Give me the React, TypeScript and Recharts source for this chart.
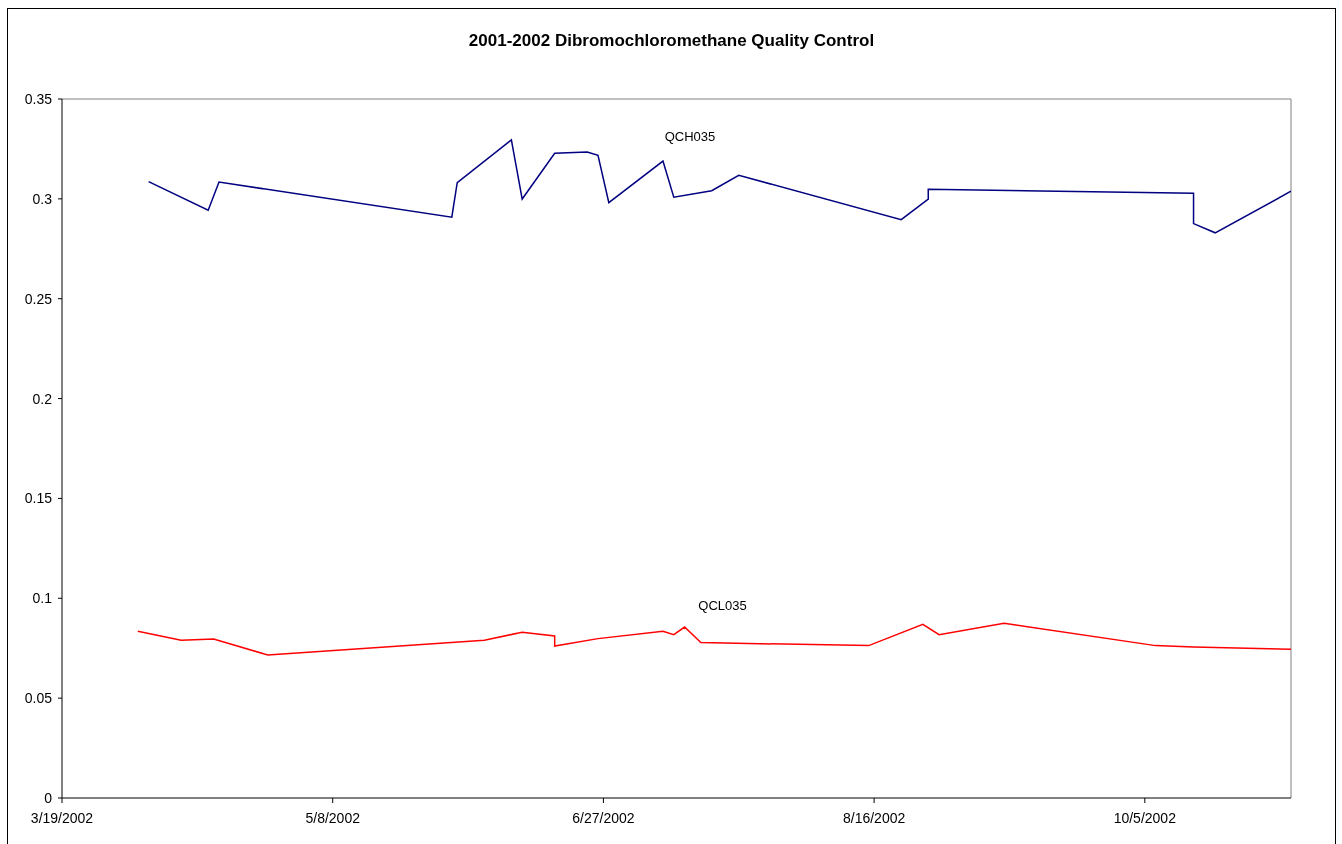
import React from "react";
import {
  LineChart,
  Line,
  XAxis,
  YAxis,
  ReferenceLine,
  ReferenceDot,
} from "recharts";

// QC sample dates and results (mg/L)
const qchDates = [
  "2002-04-04", "2002-04-15", "2002-04-17", "2002-05-30", "2002-05-31",
  "2002-06-10", "2002-06-12", "2002-06-18", "2002-06-24", "2002-06-26",
  "2002-06-28", "2002-07-08", "2002-07-10", "2002-07-17", "2002-07-22",
  "2002-08-21", "2002-08-26", "2002-08-26", "2002-10-14", "2002-10-14",
  "2002-10-18", "2002-11-01",
];
const qchValues = [
  0.3086, 0.2943, 0.3084, 0.2908, 0.3081,
  0.3295, 0.2999, 0.3228, 0.3235, 0.3218,
  0.2981, 0.3189, 0.3008, 0.3041, 0.3118,
  0.2896, 0.2999, 0.3048, 0.3028, 0.2876,
  0.283, 0.3038,
];

const qclDates = [
  "2002-04-02", "2002-04-10", "2002-04-16", "2002-04-26", "2002-06-05",
  "2002-06-12", "2002-06-18", "2002-06-18", "2002-06-26", "2002-07-08",
  "2002-07-10", "2002-07-12", "2002-07-15", "2002-08-15", "2002-08-25",
  "2002-08-28", "2002-09-09", "2002-10-07", "2002-10-14", "2002-11-01",
];
const qclValues = [
  0.0835, 0.079, 0.0796, 0.0716, 0.079,
  0.083, 0.0811, 0.0761, 0.0798, 0.0835,
  0.0818, 0.0856, 0.0778, 0.0763, 0.087,
  0.0818, 0.0875, 0.0763, 0.0756, 0.0745,
];

const xTickDates = ["2002-03-19", "2002-05-08", "2002-06-27", "2002-08-16", "2002-10-05"];
const xEndDate = "2002-11-01";
const yTicks = [0, 0.05, 0.1, 0.15, 0.2, 0.25, 0.3, 0.35];

const seriesLabels = [
  { text: "QCH035", date: "2002-07-13", value: 0.3315 },
  { text: "QCL035", date: "2002-07-19", value: 0.0966 },
];

const DAY = 86400000;
const ORIGIN = Date.UTC(2002, 2, 19);

const toDay = (s: string) => {
  const [y, m, d] = s.split("-").map(Number);
  return Math.round((Date.UTC(y, m - 1, d) - ORIGIN) / DAY);
};

const formatDay = (day: number) => {
  const d = new Date(ORIGIN + day * DAY);
  return `${d.getUTCMonth() + 1}/${d.getUTCDate()}/${d.getUTCFullYear()}`;
};

const qchData = qchDates.map((s, i) => ({ day: toDay(s), value: qchValues[i] }));
const qclData = qclDates.map((s, i) => ({ day: toDay(s), value: qclValues[i] }));
const xTicks = xTickDates.map(toDay);
const xMax = toDay(xEndDate);

const FONT = "'Liberation Sans', Arial, sans-serif";

export default function App() {
  return (
    <div
      style={{
        position: "relative",
        width: 1327,
        height: 830,
        background: "#fff",
        fontFamily: FONT,
      }}
    >
      <style>{`body{overflow:hidden}`}</style>
      {/* outer chart frame, runs off the bottom of the page */}
      <div
        style={{
          position: "fixed",
          left: 7,
          top: 8,
          width: 1327,
          height: 900,
          border: "1px solid #000",
          pointerEvents: "none",
        }}
      />
      <div
        style={{
          position: "absolute",
          left: 0,
          top: 23,
          width: 1327,
          textAlign: "center",
          fontWeight: "bold",
          fontSize: 17,
          color: "#000",
        }}
      >
        2001-2002 Dibromochloromethane Quality Control
      </div>
      <LineChart
        width={1327}
        height={841}
        margin={{ top: 91, right: 44, left: 0, bottom: 21 }}
      >
        <XAxis
          type="number"
          dataKey="day"
          domain={[0, xMax]}
          ticks={xTicks}
          tickFormatter={formatDay}
          allowDataOverflow
          height={30}
          tickSize={5}
          tickMargin={10}
          axisLine={{ stroke: "#000" }}
          tickLine={{ stroke: "#000" }}
          tick={{ fontSize: 14, fill: "#000", fontFamily: FONT }}
        />
        <YAxis
          type="number"
          dataKey="value"
          domain={[0, 0.35]}
          ticks={yTicks}
          width={54}
          tickSize={4}
          tickMargin={6}
          axisLine={{ stroke: "#000" }}
          tickLine={{ stroke: "#000" }}
          tick={{ fontSize: 14, fill: "#000", fontFamily: FONT }}
        />
        <ReferenceLine y={0.35} stroke="#808080" />
        <ReferenceLine x={xMax} stroke="#808080" />
        <Line
          data={qchData}
          dataKey="value"
          type="linear"
          stroke="#000080"
          strokeWidth={1.5}
          dot={false}
          isAnimationActive={false}
        />
        <Line
          data={qclData}
          dataKey="value"
          type="linear"
          stroke="#ff0000"
          strokeWidth={1.5}
          dot={false}
          isAnimationActive={false}
        />
        {seriesLabels.map((l) => (
          <ReferenceDot
            key={l.text}
            x={toDay(l.date)}
            y={l.value}
            r={0}
            fill="none"
            stroke="none"
            label={{
              value: l.text,
              position: "center",
              fontSize: 13,
              fill: "#000",
              fontFamily: FONT,
            }}
          />
        ))}
      </LineChart>
    </div>
  );
}
